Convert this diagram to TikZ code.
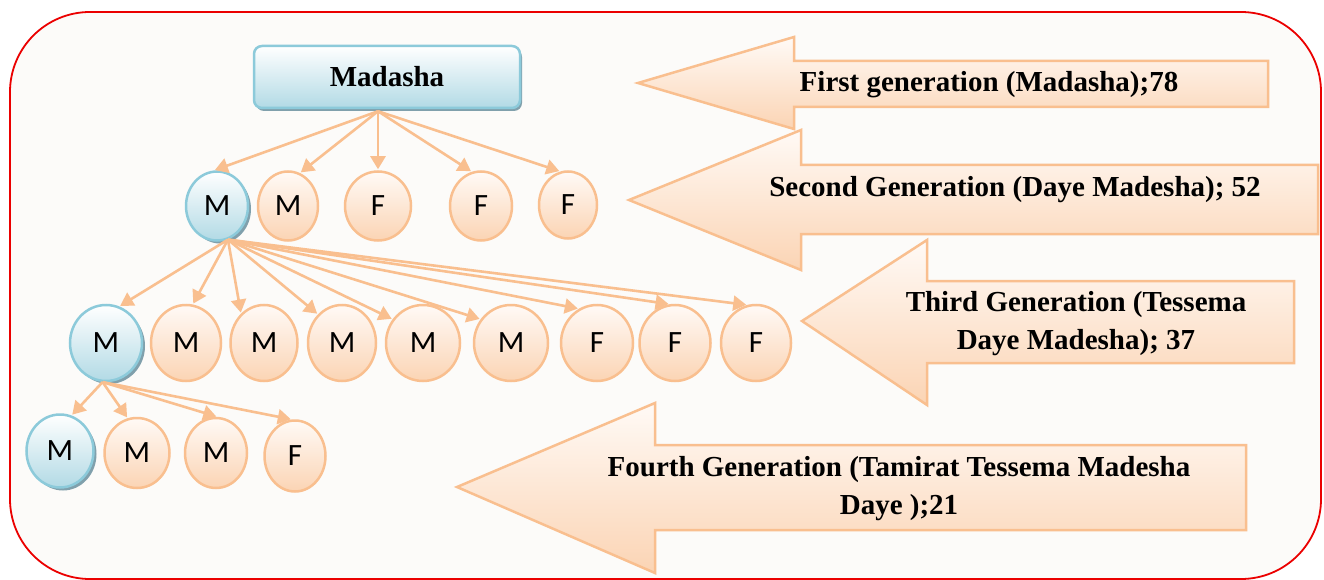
\documentclass[tikz,border=0pt]{standalone}
\usepackage{fontspec}
\setmainfont{Liberation Serif}
\newfontfamily\lblfont{Carlito}
\usetikzlibrary{arrows.meta,shapes.geometric,shadows,calc}
\definecolor{pkline}{RGB}{249,191,143}
\definecolor{pktop}{RGB}{255,250,246}
\definecolor{pkbot}{RGB}{251,212,180}
\definecolor{blline}{RGB}{140,202,218}
\definecolor{bltop}{RGB}{255,255,255}
\definecolor{blbot}{RGB}{178,218,229}
\definecolor{blshadow}{RGB}{128,160,172}
\definecolor{bgfill}{RGB}{252,251,249}
\definecolor{frame}{RGB}{235,0,0}
\newcommand{\lblsize}{\fontsize{31}{31}\selectfont}
\begin{document}
\begin{tikzpicture}[x=1pt,y=-1pt,
  pknode/.style={ellipse, draw=pkline, line width=2.5pt, top color=pktop, bottom color=pkbot,
    inner sep=0pt, font={\lblfont\lblsize}},
  blnode/.style={ellipse, draw=blline, line width=2.5pt, top color=bltop, bottom color=blbot,
    inner sep=0pt, font={\lblfont\lblsize},
    drop shadow={shadow xshift=3pt, shadow yshift=-3pt, fill=blshadow, opacity=1}},
  link/.style={draw=pkline, line width=2.6pt, shorten >=1pt, -{Triangle[length=13pt,width=15pt]}},
  bigarrow/.style={draw=pkline, line width=2.5pt, top color=pktop, bottom color=pkbot},
  gentext/.style={font=\bfseries\fontsize{29}{38}\selectfont, align=center, inner sep=0pt}
]
\useasboundingbox (0,0) rectangle (1324,580);
\fill[white] (0,0) rectangle (1324,580);
% frame
\draw[frame, line width=1.8pt, fill=bgfill, rounded corners=80pt] (10,12) rectangle (1321,579);

% big arrows
\path[bigarrow] (638,83) -- (794,37) -- (794,61) -- (1268,61) -- (1268,107) -- (794,107) -- (794,129) -- cycle;
\path[bigarrow] (629,200) -- (801,130) -- (801,165) -- (1318,165) -- (1318,234) -- (801,234) -- (801,270) -- cycle;
\path[bigarrow] (802,321) -- (927,240) -- (927,281) -- (1294,281) -- (1294,363) -- (927,363) -- (927,405) -- cycle;
\path[bigarrow] (457,487) -- (655,403) -- (655,445) -- (1246,445) -- (1246,530) -- (655,530) -- (655,573) -- cycle;

\node[gentext] (g1) at (989,85) {First generation (Madasha);78};
\node[gentext] (g2) at (1015,190) {Second Generation (Daye Madesha); 52};
\node[gentext] (g3) at (1076,324) {Third Generation (Tessema\\Daye Madesha); 37};
\node[gentext] (g4) at (899,489) {Fourth Generation (Tamirat Tessema Madesha\\Daye );21};

% root
\node[draw=blline, line width=2.5pt, top color=bltop, bottom color=blbot, rounded corners=8pt,
  minimum width=266pt, minimum height=62pt, inner sep=0pt,
  font=\bfseries\fontsize{29}{29}\selectfont,
  drop shadow={shadow xshift=2pt, shadow yshift=-3pt, fill=blshadow, opacity=1}] (m) at (387,77) {Madasha};
\coordinate (ms) at ([xshift=-9pt,yshift=-2pt]m.south);

% second generation
\node[blnode, minimum width=62pt, minimum height=69pt] (a1) at (217,206) {M};
\node[pknode, minimum width=60pt, minimum height=69pt] (a2) at (288,206) {M};
\node[pknode, minimum width=66pt, minimum height=69pt] (a3) at (378,206) {F};
\node[pknode, minimum width=62pt, minimum height=69pt] (a4) at (481,206) {F};
\node[pknode, minimum width=58pt, minimum height=67pt] (a5) at (568,205) {F};

% third generation
\node[blnode, minimum width=72pt, minimum height=76pt] (c1) at (106,343) {M};
\node[pknode, minimum width=70pt, minimum height=76pt] (c2) at (186,343) {M};
\node[pknode, minimum width=67pt, minimum height=76pt] (c3) at (264,343) {M};
\node[pknode, minimum width=68pt, minimum height=76pt] (c4) at (342,343) {M};
\node[pknode, minimum width=74pt, minimum height=76pt] (c5) at (423,343) {M};
\node[pknode, minimum width=74pt, minimum height=76pt] (c6) at (511,343) {M};
\node[pknode, minimum width=72pt, minimum height=76pt] (c7) at (597,343) {F};
\node[pknode, minimum width=71pt, minimum height=76pt] (c8) at (675,343) {F};
\node[pknode, minimum width=70pt, minimum height=76pt] (c9) at (756,343) {F};

% fourth generation
\node[blnode, minimum width=67pt, minimum height=73pt] (d1) at (60,451) {M};
\node[pknode, minimum width=65pt, minimum height=70pt] (d2) at (137,453) {M};
\node[pknode, minimum width=62pt, minimum height=70pt] (d3) at (216,453) {M};
\node[pknode, minimum width=61pt, minimum height=71pt] (d4) at (295,456) {F};

% connectors
\foreach \t/\a in {a1/95,a2/70,a3/90,a4/105,a5/103} \draw[link] (ms) -- (\t.\a);
\coordinate (as) at (a1.-72);
\foreach \t/\a in {c1/70,c2/80,c3/128,c4/130,c5/142,c6/142,c7/118,c8/98,c9/103} \draw[link] (as) -- (\t.\a);
\coordinate (cs) at (c1.-95);
\foreach \t/\a in {d1/72,d2/105,d3/88,d4/95} \draw[link] (cs) -- (\t.\a);
\end{tikzpicture}
\end{document}
